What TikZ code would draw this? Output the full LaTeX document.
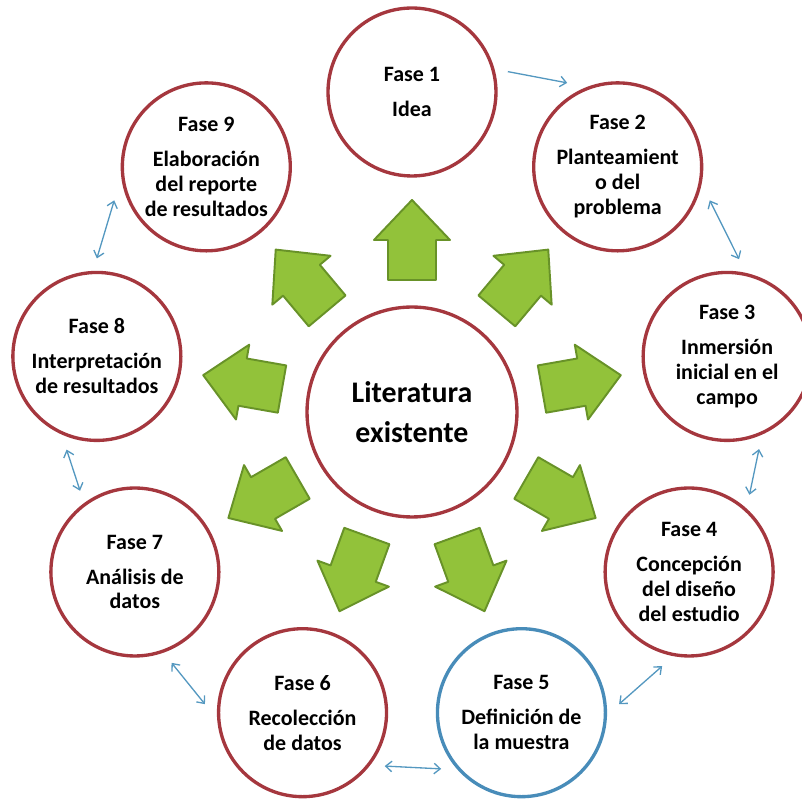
\documentclass[tikz,border=0pt]{standalone}
\usepackage{fontspec}
\setmainfont{Carlito}
\usetikzlibrary{arrows.meta}

\definecolor{phaseRed}{RGB}{165,55,62}
\definecolor{phaseBlue}{RGB}{72,140,185}
\definecolor{leafGreen}{RGB}{146,194,58}
\definecolor{leafDark}{RGB}{104,146,40}
\definecolor{linkBlue}{RGB}{84,152,192}

\begin{document}
\begin{tikzpicture}[
		x=0.02cm, y=0.02cm,
		phase node/.style={circle, draw=phaseRed, line width=1.9pt, fill=white, minimum size=3.36cm, inner sep=0pt, outer sep=0.28cm, align=center, font=\bfseries\fontsize{12.5}{14.2}\selectfont},
		hub node/.style={circle, draw=phaseRed, line width=1.9pt, fill=white, minimum size=4.2cm, inner sep=0pt, align=center, font=\bfseries\fontsize{17}{22.7}\selectfont},
		block arrow/.style={fill=leafGreen, draw=leafDark, line width=1.1pt, line join=round},
		link/.style={draw=linkBlue, line width=0.75pt, >={Straight Barb[length=3.5pt,width=6pt]}}
	]
		\useasboundingbox (-412,-388) rectangle (390,412);

		\node[hub node] (lit) {Literatura\\existente};

		\node[phase node] (f1) at (90:320) {Fase 1\\[5.7pt]Idea};
		\node[phase node] (f2) at (50:320) {Fase 2\\[5.7pt]Planteamient\\o del\\problema};
		\node[phase node] (f3) at (10:320) {Fase 3\\[5.7pt]Inmersión\\inicial en el\\campo};
		\node[phase node] (f4) at (-30:320) {Fase 4\\[5.7pt]Concepción\\del diseño\\del estudio};
		\node[phase node, draw=phaseBlue] (f5) at (-70:320) {Fase 5\\[5.7pt]Definición de\\la muestra};
		\node[phase node] (f6) at (-110:320) {Fase 6\\[5.7pt]Recolección\\de datos};
		\node[phase node] (f7) at (-150:320) {Fase 7\\[5.7pt]Análisis de\\datos};
		\node[phase node] (f8) at (170:320) {Fase 8\\[5.7pt]Interpretación\\de resultados};
		\node[phase node] (f9) at (130:320) {Fase 9\\[5.7pt]Elaboración\\del reporte\\de resultados};

		% green arrows from the hub towards each phase
		\foreach \a in {90,50,...,-230} {
			\draw[block arrow, rotate=\a] (132,-24) -- (172,-24) -- (172,-38) -- (212,0) -- (172,38) -- (172,24) -- (132,24) -- cycle;
		}

		% links between neighbouring phases
		\draw[link, ->] (f1.12) -- (f2.121);
		\foreach \s/\t/\as/\at in {2/3/-20/83, 3/4/-71/52, 4/5/-106/5, 5/6/-145/-33, 6/7/175/-68, 7/8/124/-108, 8/9/90/-160} {
			\draw[link, <->] (f\s.\as) -- (f\t.\at);
		}

	\end{tikzpicture}
\end{document}
